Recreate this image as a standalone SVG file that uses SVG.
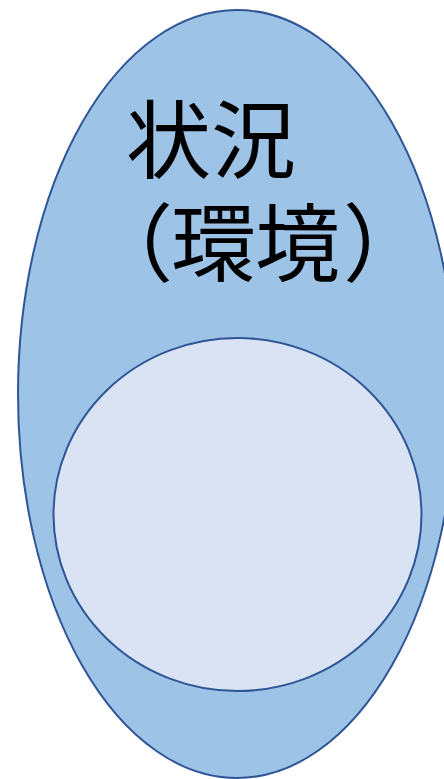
<svg xmlns="http://www.w3.org/2000/svg" width="444" height="779" viewBox="0 0 444 779">
<style>
.outer{fill:#9dc3e6;stroke:#2f5597;stroke-width:2}
.inner{fill:#dae3f3;stroke:#2f5597;stroke-width:2}
.lbl{font-family:"Noto Sans CJK JP","Noto Sans CJK SC",sans-serif;font-size:85px;fill:#000;text-spacing-trim:space-all}
</style>
<rect width="444" height="779" fill="#ffffff"/>
<g id="situation">
<ellipse class="outer" cx="237" cy="394" rx="219" ry="384"/>
<text class="lbl" x="126 211" y="172">状況</text>
<text class="lbl" x="88 171 255 343" y="275">（環境）</text>
</g>
<g id="inner">
<ellipse class="inner" cx="237.5" cy="514.5" rx="184" ry="176.5"/>
</g>
<g id="connectors"/>
</svg>
